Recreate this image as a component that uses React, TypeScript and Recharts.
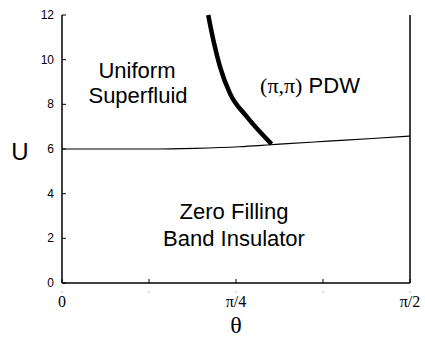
import React from "react";
import { LineChart, Line, XAxis, YAxis } from "recharts";

const PI = Math.PI;

// phase boundaries (theta in radians, U)
const flatTheta = [0, 0.2, 0.4, 0.6, 0.8, 0.94, 1.0, 1.2, 1.4, PI / 2];
const flatU = [6.0, 6.0, 6.0, 6.03, 6.1, 6.19, 6.23, 6.35, 6.47, 6.58];

const pdwTheta = [0.66, 0.683, 0.713, 0.758, 0.834, 0.946];
const pdwU = [12.0, 10.88, 9.69, 8.49, 7.45, 6.22];

const xTicks = [0, PI / 8, PI / 4, (3 * PI) / 8, PI / 2];
const xTickLabels = ["0", "", "π/4", "", "π/2"];
const yTicks = [0, 2, 4, 6, 8, 10, 12];

const flatData = flatTheta.map((t, i) => ({ theta: t, u: flatU[i] }));
const pdwData = pdwTheta.map((t, i) => ({ theta: t, u: pdwU[i] }));

const W = 425;
const H = 339;
const LEFT = 62;
const RIGHT = 410;
const TOP = 15;
const BOTTOM = 283;

const sans = "'Liberation Sans', Arial, sans-serif";
const serif = "'Liberation Serif', 'Times New Roman', serif";

const BottomTick = (props: any) => {
  const { x, payload } = props;
  const idx = xTicks.findIndex((v) => Math.abs(v - payload.value) < 1e-6);
  const label = idx >= 0 ? xTickLabels[idx] : "";
  return (
    <g>
      <line x1={x} x2={x} y1={BOTTOM} y2={BOTTOM - 4} stroke="#000" />
      <line x1={x - 1} x2={x + 1} y1={BOTTOM + 9} y2={BOTTOM + 9} stroke="#bbb" />
      {label && (
        <text x={x} y={BOTTOM + 24} textAnchor="middle" fontFamily={serif} fontSize={16} fill="#000">
          {label}
        </text>
      )}
    </g>
  );
};

const TopTick = (props: any) => {
  const { x } = props;
  return <line x1={x} x2={x} y1={TOP} y2={TOP + 4} stroke="#000" />;
};

const LeftTick = (props: any) => {
  const { y, payload } = props;
  return (
    <g>
      <line x1={LEFT} x2={LEFT + 4} y1={y} y2={y} stroke="#000" />
      <text x={LEFT - 8} y={y + 4} textAnchor="end" fontFamily={sans} fontSize={12} fill="#000">
        {payload.value}
      </text>
    </g>
  );
};

const RightTick = (props: any) => {
  const { y } = props;
  return <line x1={RIGHT} x2={RIGHT - 4} y1={y} y2={y} stroke="#000" />;
};

export default function App() {
  return (
    <div style={{ position: "absolute", left: 0, top: 0, width: W, height: H, background: "#fff" }}>
      <LineChart
        width={W}
        height={H}
        margin={{ top: TOP, right: 0, bottom: 0, left: 0 }}
      >
        <XAxis
          xAxisId="b"
          dataKey="theta"
          type="number"
          domain={[0, PI / 2]}
          ticks={xTicks}
          allowDataOverflow
          height={H - BOTTOM}
          axisLine={{ stroke: "#000", strokeWidth: 1.5 }}
          tickLine={false}
          tick={<BottomTick />}
          interval={0}
        />
        <XAxis
          xAxisId="t"
          orientation="top"
          dataKey="theta"
          type="number"
          domain={[0, PI / 2]}
          ticks={xTicks}
          height={0}
          axisLine={{ stroke: "#000", strokeWidth: 1.5 }}
          tickLine={false}
          tick={<TopTick />}
          interval={0}
        />
        <YAxis
          yAxisId="l"
          type="number"
          domain={[0, 12]}
          ticks={yTicks}
          width={LEFT}
          axisLine={{ stroke: "#000", strokeWidth: 1.5 }}
          tickLine={false}
          tick={<LeftTick />}
          interval={0}
        />
        <YAxis
          yAxisId="r"
          orientation="right"
          type="number"
          domain={[0, 12]}
          ticks={yTicks}
          width={W - RIGHT}
          axisLine={{ stroke: "#000", strokeWidth: 1.5 }}
          tickLine={false}
          tick={<RightTick />}
          interval={0}
        />
        <Line
          xAxisId="b"
          yAxisId="l"
          data={flatData}
          dataKey="u"
          type="monotone"
          stroke="#000"
          strokeWidth={1.2}
          dot={false}
          isAnimationActive={false}
        />
        <Line
          xAxisId="b"
          yAxisId="l"
          data={pdwData}
          dataKey="u"
          type="monotone"
          stroke="#000"
          strokeWidth={4.5}
          dot={false}
          isAnimationActive={false}
        />
      </LineChart>
      <svg
        width={W}
        height={H}
        style={{ position: "absolute", left: 0, top: 0, pointerEvents: "none" }}
      >
        <text x={20} y={160} textAnchor="middle" fontFamily={sans} fontSize={24}>U</text>
        <text x={236} y={333} textAnchor="middle" fontFamily={serif} fontSize={24}>θ</text>
        <text x={137} y={78} textAnchor="middle" fontFamily={sans} fontSize={22}>Uniform</text>
        <text x={138} y={103} textAnchor="middle" fontFamily={sans} fontSize={22}>Superfluid</text>
        <text x={310} y={93} textAnchor="middle" fontSize={22}>
          <tspan fontFamily={serif}>(π,π)</tspan>
          <tspan fontFamily={sans}> PDW</tspan>
        </text>
        <text x={234} y={219} textAnchor="middle" fontFamily={sans} fontSize={22}>Zero Filling</text>
        <text x={234} y={246} textAnchor="middle" fontFamily={sans} fontSize={22}>Band Insulator</text>
      </svg>
    </div>
  );
}
